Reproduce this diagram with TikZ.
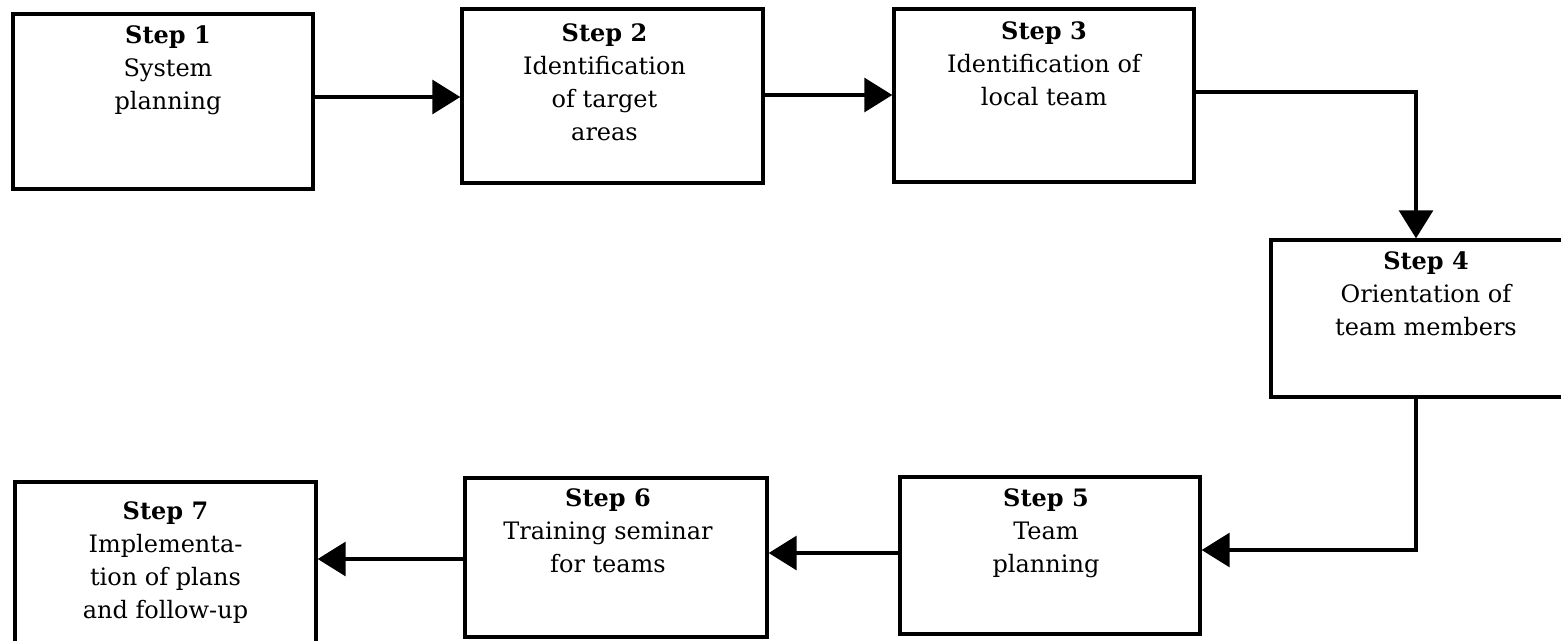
\documentclass[tikz,border=0pt]{standalone}
\usepackage{fontspec}
\setmainfont{DejaVu Serif}
\usetikzlibrary{arrows.meta}
\tikzset{
  box/.style={draw=black, line width=3.4pt, fill=none, inner sep=0pt},
  txt/.style={align=center, inner sep=0pt, anchor=north, font=\fontsize{24}{33}\selectfont},
  arr/.style={line width=3.2pt, -{Triangle[length=28pt,width=34pt]}},
}
\begin{document}
\begin{tikzpicture}[x=1pt,y=-1pt]
\useasboundingbox[fill=white] (0,0) rectangle (1561,640);
% boxes
\node[box, minimum width=300pt, minimum height=175pt] (b1) at (163,101.5) {};
\node[box, minimum width=301pt, minimum height=174pt] (b2) at (612.5,96) {};
\node[box, minimum width=300pt, minimum height=173pt] (b3) at (1044,95.5) {};
\node[box, minimum width=300pt, minimum height=157pt] (b4) at (1421,318.5) {};
\node[box, minimum width=300pt, minimum height=157pt] (b5) at (1050,555.5) {};
\node[box, minimum width=302pt, minimum height=159pt] (b6) at (616,557.5) {};
\node[box, minimum width=301pt, minimum height=162pt] (b7) at (165.5,563) {};
% texts
\node[txt] (t1) at ([xshift=5pt,yshift=-13pt]b1.north) {\textbf{Step 1}\\System\\planning};
\node[txt] (t2) at ([xshift=-8pt,yshift=-16pt]b2.north) {\textbf{Step 2}\\Identification\\of target\\areas};
\node[txt] (t3) at ([yshift=-14pt]b3.north) {\textbf{Step 3}\\Identification of\\local team};
\node[txt] (t4) at ([xshift=5pt,yshift=-13pt]b4.north) {\textbf{Step 4}\\Orientation of\\team members};
\node[txt] (t5) at ([xshift=-4pt,yshift=-13pt]b5.north) {\textbf{Step 5}\\Team\\planning};
\node[txt] (t6) at ([xshift=-8pt,yshift=-12pt]b6.north) {\textbf{Step 6}\\Training seminar\\for teams};
\node[txt] (t7) at ([yshift=-21pt]b7.north) {\textbf{Step 7}\\Implementa-\\tion of plans\\and follow-up};
% connectors
\coordinate (c34) at (1416,92);
\coordinate (c45) at (1416,550);
\draw[arr] (b1.east |- 0,97) -- (b2.west |- 0,97);
\draw[arr] (b2.east |- 0,95) -- (b3.west |- 0,95);
\draw[arr] (b3.east |- c34) -- (c34) -- (c34 |- b4.north);
\draw[arr] (c45 |- b4.south) -- (c45) -- (b5.east |- c45);
\draw[arr] (b5.west |- 0,553) -- (b6.east |- 0,553);
\draw[arr] (b6.west |- 0,559) -- (b7.east |- 0,559);
\end{tikzpicture}
\end{document}
